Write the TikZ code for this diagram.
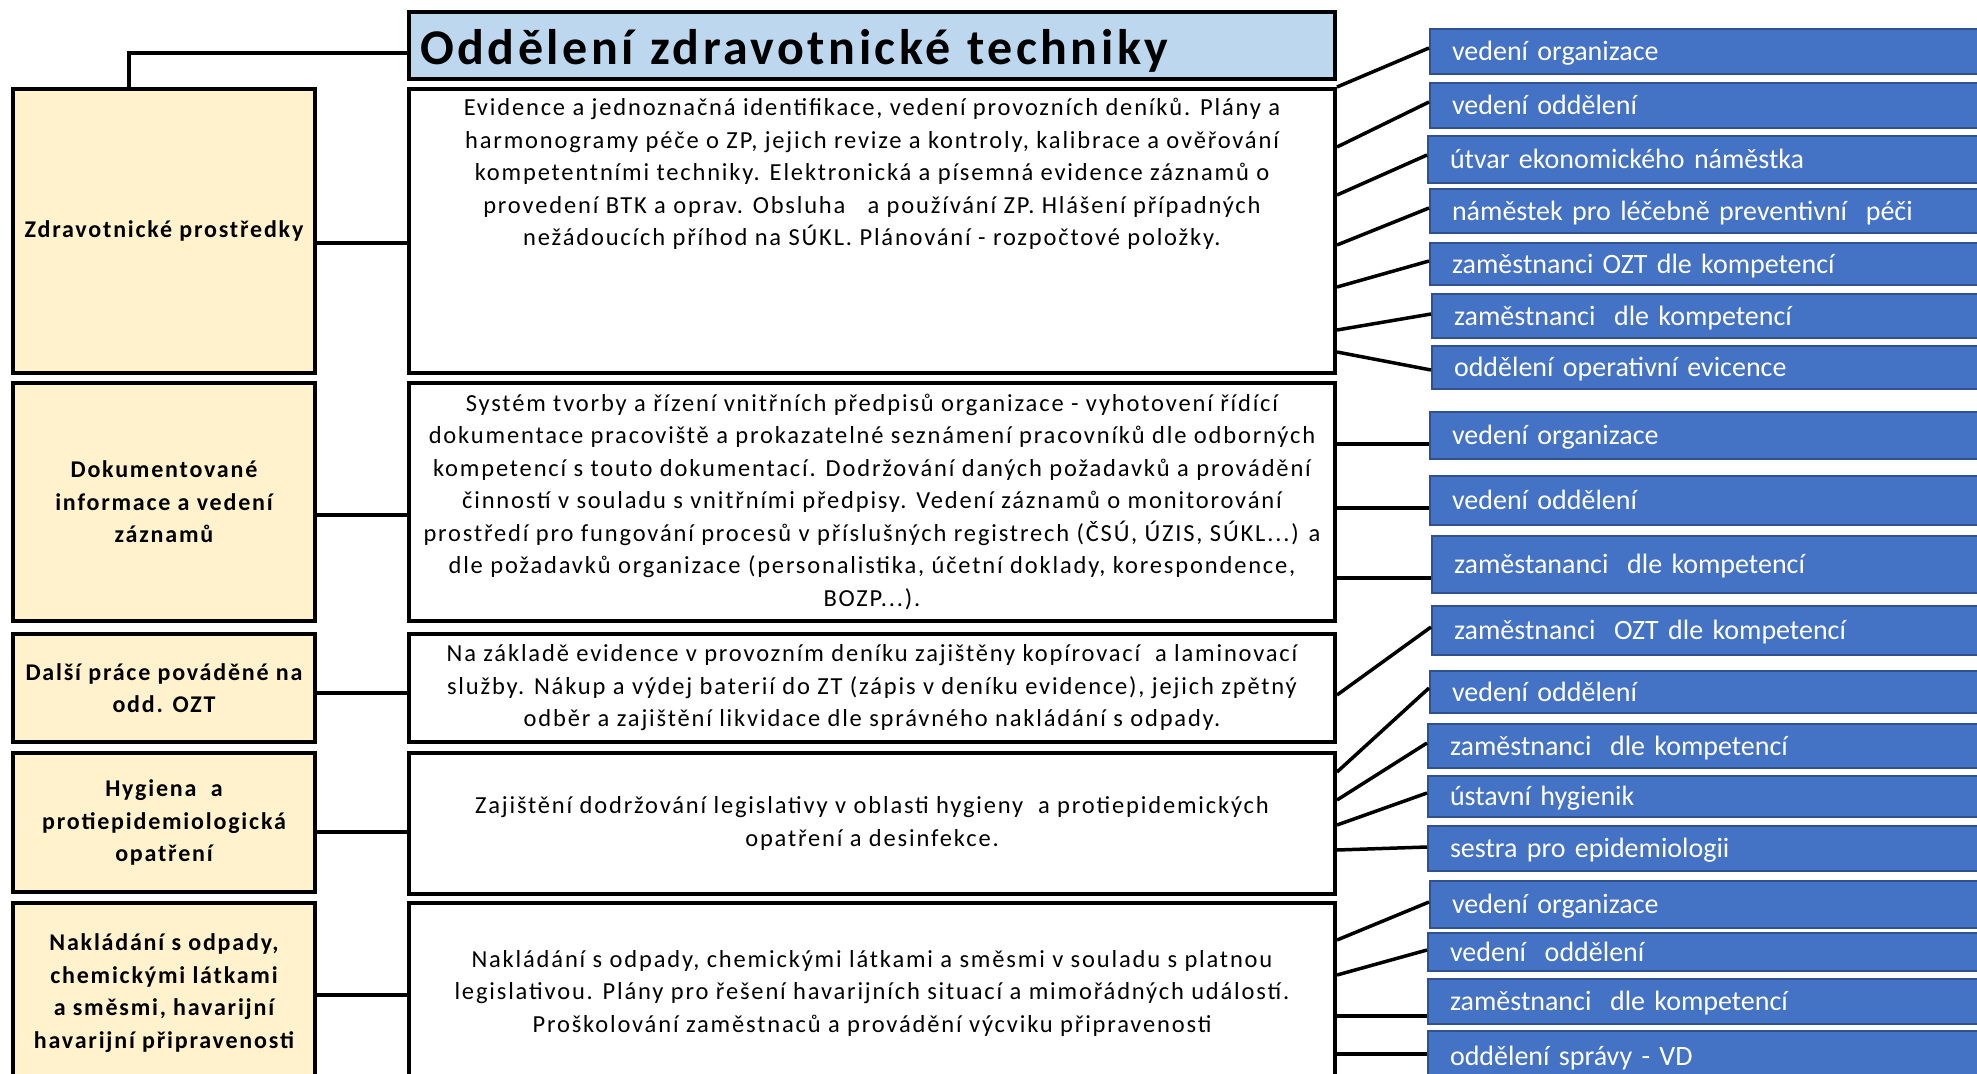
\documentclass[tikz,border=0pt]{standalone}
\usepackage{fontspec}
\setmainfont{Carlito}
\newfontfamily\descfont[LetterSpace=7.5]{Carlito}
\newfontfamily\areafont[LetterSpace=7.5]{Carlito}
\newfontfamily\titlefont[LetterSpace=7]{Carlito}
\newfontfamily\rolefont[WordSpace=0.6]{Carlito}
\usetikzlibrary{calc}

\definecolor{sideyellow}{HTML}{FFF2CC}
\definecolor{titleblue}{HTML}{BDD7EE}
\definecolor{roleblue}{HTML}{4472C4}
\definecolor{roleedge}{HTML}{2F528F}

\begin{document}
\begin{tikzpicture}[x=1pt, y=-1pt,
  titlebox/.style={draw=black, line width=4pt, fill=titleblue, anchor=north west,
    minimum width=926pt, minimum height=67pt, text width=904pt, inner xsep=11pt,
    inner ysep=0pt, align=left, text height=40pt, text depth=3pt,
    font=\titlefont\fontsize{50}{60}\selectfont\bfseries},
  areabox/.style={draw=black, line width=4pt, fill=sideyellow, anchor=north west,
    minimum width=302pt, inner sep=0pt, align=center,
    font=\areafont\fontsize{24}{32.5}\selectfont\bfseries},
  descbox/.style={draw=black, line width=4pt, fill=white, anchor=north west,
    minimum width=926pt, inner sep=0pt, align=center,
    font=\descfont\fontsize{24.5}{32.5}\selectfont},
  desctext/.style={inner sep=0pt, align=center,
    font=\descfont\fontsize{24.5}{32.5}\selectfont},
  rolebox/.style={draw=roleedge, line width=2pt, fill=roleblue, text=white,
    anchor=north west, minimum width=600pt, text width=556pt, inner xsep=22pt,
    inner ysep=0pt, align=left, text height=20pt, text depth=2pt,
    font=\rolefont\fontsize{28}{32}\selectfont},
  link/.style={draw=black, line width=3.5pt}
]
\useasboundingbox (0,0) rectangle (1977,1073);
\clip (0,0) rectangle (1977,1073);
\fill[white] (0,0) rectangle (1977,1073);

% heading
\node[titlebox] (T) at (407,10) {Oddělení zdravotnické techniky};

% areas of work (left column)
\node[areabox, minimum height=284pt] (L1) at (11,87) {Zdravotnické prostředky};
\node[areabox, minimum height=238pt] (L2) at (11,381) {Dokumentované\\informace a vedení\\záznamů};
\node[areabox, minimum height=108pt] (L3) at (11,632) {Další práce pováděné na\\odd. OZT};
\node[areabox, minimum height=139pt] (L4) at (11,751) {Hygiena\ \ a\\protiepidemiologická\\opatření};
\node[areabox, minimum height=180pt] (L5) at (11,901) {Nakládání s odpady,\\chemickými látkami\\a směsmi, havarijní\\havarijní připravenosti};

% descriptions (middle column)
\node[descbox, minimum height=284pt] (T1) at (407,87) {};
\node[desctext] (T1text) at ($(T1.north)+(0,87)$) {Evidence a jednoznačná identifikace, vedení provozních deníků. Plány a\\harmonogramy péče o ZP, jejich revize a kontroly, kalibrace a ověřování\\kompetentními techniky. Elektronická a písemná evidence záznamů o\\provedení BTK a oprav. Obsluha\ \ \ a používání ZP. Hlášení případných\\nežádoucích příhod na SÚKL. Plánování - rozpočtové položky.};
\node[descbox, minimum height=238pt] (T2) at (407,381) {Systém tvorby a řízení vnitřních předpisů organizace - vyhotovení řídící\\dokumentace pracoviště a prokazatelné seznámení pracovníků dle odborných\\kompetencí s touto dokumentací. Dodržování daných požadavků a provádění\\činností v souladu s vnitřními předpisy. Vedení záznamů o monitorování\\prostředí pro fungování procesů v příslušných registrech (ČSÚ, ÚZIS, SÚKL...) a\\dle požadavků organizace (personalistika, účetní doklady, korespondence,\\BOZP...).};
\node[descbox, minimum height=108pt] (T3) at (407,632) {Na základě evidence v provozním deníku zajištěny kopírovací\ \ a laminovací\\služby. Nákup a výdej baterií do ZT (zápis v deníku evidence), jejich zpětný\\odběr a zajištění likvidace dle správného nakládání s odpady.};
\node[descbox, minimum height=141pt] (T4) at (407,751) {Zajištění dodržování legislativy v oblasti hygieny\ \ a protiepidemických\\opatření a desinfekce.};
\node[descbox, minimum height=180pt] (T5) at (407,901) {Nakládání s odpady, chemickými látkami a směsmi v souladu s platnou\\legislativou. Plány pro řešení havarijních situací a mimořádných událostí.\\Proškolování zaměstnaců a provádění výcviku připravenosti};

% responsible persons (right column)
\node[rolebox, minimum height=45pt] (R1)  at (1429,28)  {vedení organizace};
\node[rolebox, minimum height=45pt] (R2)  at (1429,82)  {vedení oddělení};
\node[rolebox, minimum height=47pt] (R3)  at (1427,135) {útvar ekonomického náměstka};
\node[rolebox, minimum height=44pt] (R4)  at (1429,188) {náměstek pro léčebně preventivní\ \ péči};
\node[rolebox, minimum height=42pt] (R5)  at (1429,242) {zaměstnanci\ OZT dle kompetencí};
\node[rolebox, minimum height=44pt] (R6)  at (1431,293) {zaměstnanci\ \ dle kompetencí};
\node[rolebox, minimum height=43pt] (R7)  at (1431,345) {oddělení operativní evicence};
\node[rolebox, minimum height=47pt] (R8)  at (1429,411) {vedení organizace};
\node[rolebox, minimum height=49pt] (R9)  at (1429,475) {vedení oddělení};
\node[rolebox, minimum height=57pt] (R10) at (1431,535) {zaměstananci\ \ dle kompetencí};
\node[rolebox, minimum height=49pt] (R11) at (1431,605) {zaměstnanci\ \ OZT dle kompetencí};
\node[rolebox, minimum height=42pt] (R12) at (1429,670) {vedení oddělení};
\node[rolebox, minimum height=44pt] (R13) at (1427,723) {zaměstnanci\ \ dle kompetencí};
\node[rolebox, minimum height=41pt] (R14) at (1427,775) {ústavní hygienik};
\node[rolebox, minimum height=45pt] (R15) at (1427,825) {sestra pro epidemiologii};
\node[rolebox, minimum height=47pt] (R16) at (1429,880) {vedení organizace};
\node[rolebox, minimum height=38pt] (R17) at (1427,932) {vedení\ \ oddělení};
\node[rolebox, minimum height=45pt] (R18) at (1427,978) {zaměstnanci\ \ dle kompetencí};
\node[rolebox, minimum height=50pt] (R19) at (1427,1030) {oddělení správy - VD};

% heading to first area
\draw[link] ($(T.west)+(0,7.5)$) -| ($(L1.north west)+(118,0)$);

% areas to descriptions
\draw[link] ($(L1.north east)+(0,156)$) -- ($(T1.north west)+(0,156)$);
\draw[link] ($(L2.north east)+(0,134)$) -- ($(T2.north west)+(0,134)$);
\draw[link] ($(L3.north east)+(0,61)$)  -- ($(T3.north west)+(0,61)$);
\draw[link] ($(L4.north east)+(0,81)$)  -- ($(T4.north west)+(0,81)$);
\draw[link] ($(L5.north east)+(0,94)$)  -- ($(T5.north west)+(0,94)$);

% descriptions to responsible persons
\draw[link] (T1.north east) -- ($(R1.north west)+(0,20)$);
\draw[link] ($(T1.north east)+(0,60)$)  -- ($(R2.north west)+(0,20)$);
\draw[link] ($(T1.north east)+(0,108)$) -- ($(R3.north west)+(0,20)$);
\draw[link] ($(T1.north east)+(0,158)$) -- ($(R4.north west)+(0,20)$);
\draw[link] ($(T1.north east)+(0,200)$) -- ($(R5.north west)+(0,19)$);
\draw[link] ($(T1.north east)+(0,243)$) -- ($(R6.north west)+(0,21)$);
\draw[link] ($(T1.north east)+(0,265)$) -- ($(R7.north west)+(0,25)$);

\draw[link] ($(T2.north east)+(0,63)$)  -- ($(R8.north west)+(0,33)$);
\draw[link] ($(T2.north east)+(0,127)$) -- ($(R9.north west)+(0,33)$);
\draw[link] ($(T2.north east)+(0,197)$) -- ($(R10.north west)+(0,43)$);

\draw[link] ($(T3.north east)+(0,63)$)  -- ($(R11.north west)+(0,22)$);

\draw[link] ($(T4.north east)+(0,21)$)  -- ($(R12.north west)+(0,18)$);
\draw[link] ($(T4.north east)+(0,49)$)  -- ($(R13.north west)+(0,20)$);
\draw[link] ($(T4.north east)+(0,74)$)  -- ($(R14.north west)+(0,18)$);
\draw[link] ($(T4.north east)+(0,99)$)  -- ($(R15.north west)+(0,22)$);

\draw[link] ($(T5.north east)+(0,39)$)  -- ($(R16.north west)+(0,22)$);
\draw[link] ($(T5.north east)+(0,74)$)  -- ($(R17.north west)+(0,18)$);
\draw[link] ($(T5.north east)+(0,115)$) -- ($(R18.north west)+(0,38)$);
\draw[link] ($(T5.north east)+(0,153)$) -- ($(R19.north west)+(0,24)$);
\end{tikzpicture}
\end{document}
